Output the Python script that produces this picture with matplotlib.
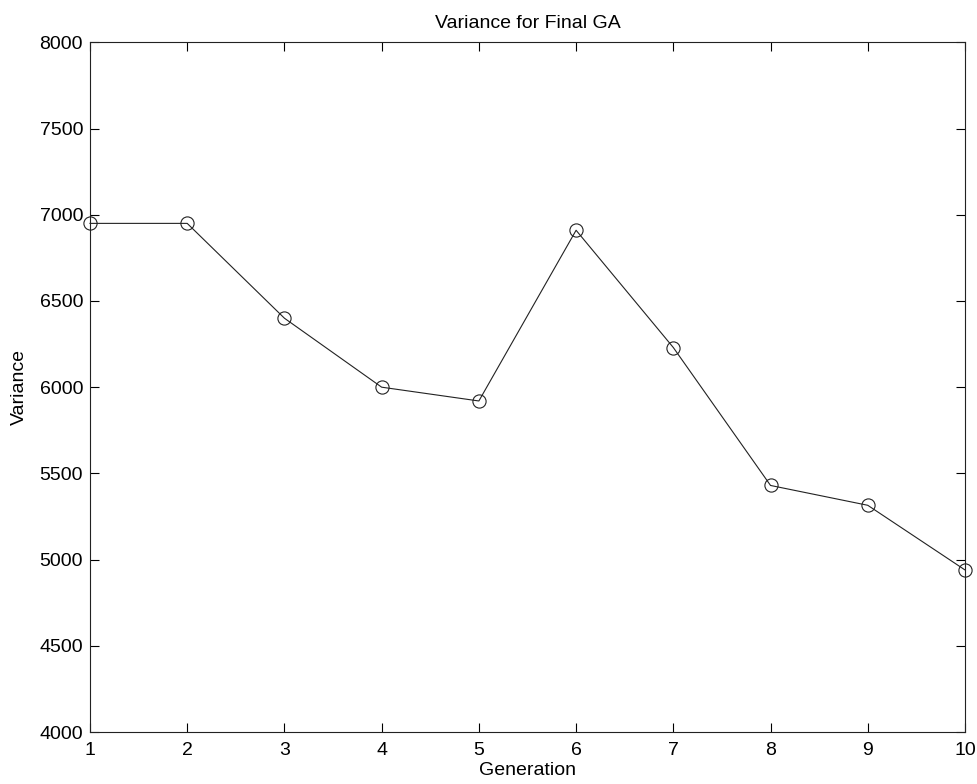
import matplotlib
matplotlib.use('Agg')
import matplotlib.pyplot as plt

generation = [1, 2, 3, 4, 5, 6, 7, 8, 9, 10]
variance = [6950, 6950, 6400, 6000, 5920, 6910, 6230, 5430, 5315, 4940]

plt.rcParams['font.family'] = ['Liberation Sans', 'DejaVu Sans']

fig = plt.figure(figsize=(9.77, 7.84), dpi=100)
ax = fig.add_axes([0.0921, 0.0663, 0.8956, 0.8797])

ax.plot(generation, variance, color='#222222', linewidth=0.8,
        marker='o', markersize=9.5, markerfacecolor='none',
        markeredgecolor='#222222', markeredgewidth=0.8, clip_on=False)

ax.set_xlim(1, 10)
ax.set_ylim(4000, 8000)
ax.set_xticks(range(1, 11))
ax.set_yticks(range(4000, 8001, 500))

ax.tick_params(direction='in', length=6.5, width=0.8, top=True, right=True,
               labelsize=14)
ax.tick_params(axis='x', pad=7)
ax.tick_params(axis='y', pad=5)
for s in ax.spines.values():
    s.set_linewidth(0.8)
    s.set_color('#222222')

ax.set_title('Variance for Final GA', fontsize=14, pad=10)
ax.set_xlabel('Generation', fontsize=14, labelpad=2)
ax.set_ylabel('Variance', fontsize=14, labelpad=8)

fig.savefig('out.png', dpi=100)
